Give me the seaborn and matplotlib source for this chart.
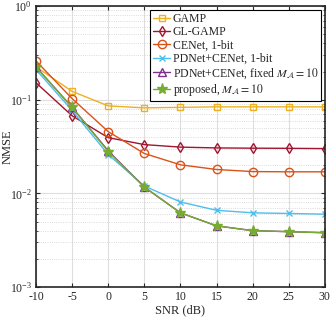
import numpy as np
import pandas as pd
import matplotlib
matplotlib.use("Agg")
import matplotlib.pyplot as plt
import seaborn as sns
from matplotlib.ticker import LogLocator, NullFormatter

snr = [-10, -5, 0, 5, 10, 15, 20, 25, 30]
gamp = [0.225, 0.123, 0.086, 0.082, 0.083, 0.084, 0.084, 0.084, 0.084]
glgamp = [0.152, 0.0675, 0.0394, 0.0332, 0.0312, 0.0306, 0.0304, 0.0303, 0.0301]
cenet = [0.26, 0.103, 0.0457, 0.0267, 0.0202, 0.018, 0.0171, 0.0170, 0.0170]
pdnet = [0.21, 0.077, 0.026, 0.0120, 0.0081, 0.0066, 0.0062, 0.0061, 0.0060]
fixed = [0.225, 0.083, 0.0285, 0.0117, 0.0062, 0.0045, 0.0040, 0.0039, 0.0038]
proposed = [0.224, 0.083, 0.028, 0.0117, 0.0062, 0.0045, 0.0040, 0.0039, 0.0038]

labels = ["GAMP", "GL-GAMP", "CENet, 1-bit", "PDNet+CENet, 1-bit",
          r"PDNet+CENet, fixed $M_{\mathcal{A}}=10$", r"proposed, $M_{\mathcal{A}}=10$"]
series = [gamp, glgamp, cenet, pdnet, fixed, proposed]
colors = ["#EDB120", "#A2142F", "#D95319", "#4DBEEE", "#7E2F8E", "#77AC30"]
markers = ["s", "d", "o", "x", "^", "*"]
msizes = [5, 5, 6, 4, 6, 8]

sns.set_style("ticks")
plt.rcParams["font.family"] = ["Liberation Serif", "DejaVu Serif"]
plt.rcParams["mathtext.fontset"] = "stix"

fig = plt.figure(figsize=(3.32, 3.17), dpi=100)
ax = fig.add_axes([0.1084, 0.0946, 0.870, 0.886])

for lab, vals, c, m, ms in zip(labels, series, colors, markers, msizes):
    df = pd.DataFrame({"SNR": snr, "NMSE": vals})
    sns.lineplot(data=df, x="SNR", y="NMSE", ax=ax, color=c, marker=m,
                 markersize=ms, markerfacecolor="none" if m not in ("x", "*") else c,
                 markeredgecolor=c, markeredgewidth=1.0, linewidth=1.0, label=lab)

ax.set_yscale("log")
ax.set_xlim(-10, 30)
ax.set_ylim(1e-3, 1)
ax.set_xticks(snr)
ax.set_xticklabels([str(s) for s in snr])
ax.yaxis.set_major_locator(LogLocator(base=10, numticks=10))
ax.yaxis.set_minor_locator(LogLocator(base=10, subs=np.arange(2, 10), numticks=10))
ax.yaxis.set_minor_formatter(NullFormatter())
ax.grid(True, which="major", color="#dedede", linewidth=0.8, linestyle="-")
ax.grid(True, which="minor", axis="y", color="#cfcfcf", linewidth=0.6, linestyle=":")
ax.set_axisbelow(True)
ax.tick_params(direction="in", which="both", top=True, right=True, labelsize=8.5, length=3, pad=3)
ax.tick_params(which="minor", length=1.5)
for s in ax.spines.values():
    s.set_linewidth(1.2)
    s.set_color("#262626")
ax.set_xlabel("SNR (dB)", fontsize=9, labelpad=1)
ax.set_ylabel("NMSE", fontsize=9)
ax.yaxis.set_label_coords(-0.076, 0.5)

leg = ax.legend(loc="upper right", fontsize=8.5, frameon=True, fancybox=False,
                edgecolor="black", handlelength=1.5, handletextpad=0.2,
                labelspacing=0.12, borderpad=0.25, borderaxespad=0.3, framealpha=1)
leg.get_frame().set_linewidth(0.8)

fig.savefig("out.png", dpi=100)
